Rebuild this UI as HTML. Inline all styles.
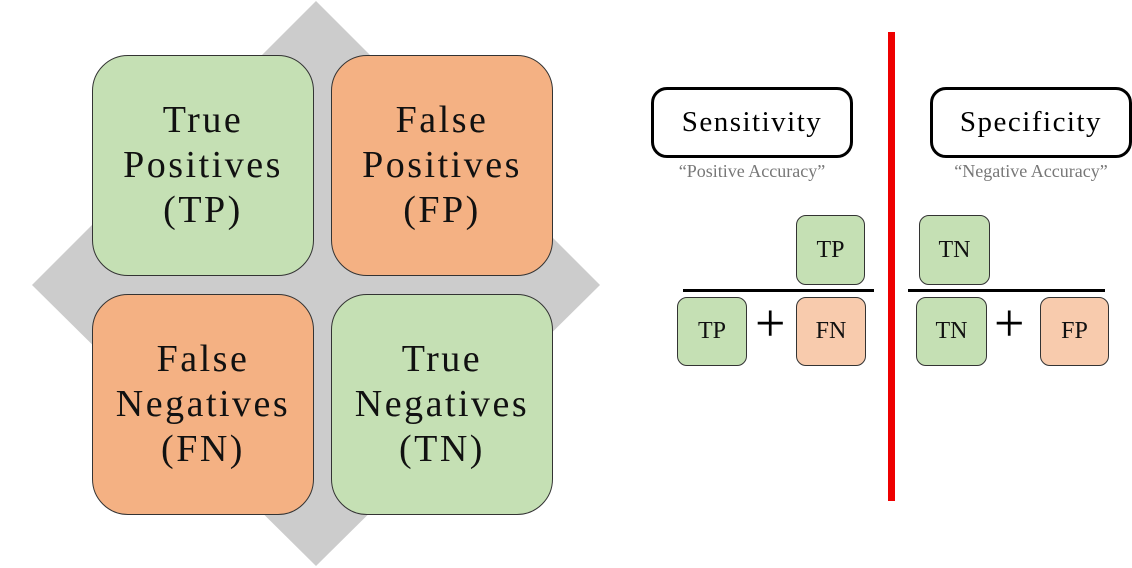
<!DOCTYPE html>
<html><head><style>
body{margin:0;width:1132px;height:568px;background:#fff;position:relative;overflow:hidden;font-family:"Liberation Serif",serif}
.a{position:absolute;box-sizing:border-box}
.big{border:1px solid #333;border-radius:36px;display:flex;align-items:center;justify-content:center;text-align:center;font-size:38px;line-height:45px;color:#111;letter-spacing:2.5px}
.g{background:#c5e0b4}.o{background:#f4b183}.lo{background:#f8cbad}
.sm{border:1px solid #333;border-radius:10px;display:flex;align-items:center;justify-content:center;font-size:24px;color:#111}
.hd{border:3px solid #000;border-radius:16px;display:flex;align-items:center;justify-content:center;font-size:29px;letter-spacing:1.5px}
.sub{font-size:18px;color:#777;text-align:center}
.plus{font-size:54px;line-height:54px}
</style></head><body>
<svg class="a" style="left:0;top:0" width="620" height="568"><polygon points="316,1 600,285 316,566 32,285" fill="#cccccc"/></svg>
<div class="a big g" style="left:92px;top:55px;width:222px;height:221px">True<br>Positives<br>(TP)</div>
<div class="a big o" style="left:331px;top:55px;width:222px;height:221px">False<br>Positives<br>(FP)</div>
<div class="a big o" style="left:92px;top:294px;width:222px;height:221px">False<br>Negatives<br>(FN)</div>
<div class="a big g" style="left:331px;top:294px;width:222px;height:221px">True<br>Negatives<br>(TN)</div>
<div class="a" style="left:888px;top:32px;width:7px;height:469px;background:#e00"></div>
<div class="a hd" style="left:651px;top:87px;width:202px;height:71px">Sensitivity</div>
<div class="a hd" style="left:930px;top:87px;width:202px;height:71px">Specificity</div>
<div class="a sub" style="left:641px;top:161px;width:222px">“Positive Accuracy”</div>
<div class="a sub" style="left:920px;top:161px;width:222px">“Negative Accuracy”</div>
<div class="a sm g" style="left:796px;top:215px;width:69px;height:70px">TP</div>
<div class="a" style="left:683px;top:289px;width:191px;height:3px;background:#000"></div>
<div class="a sm g" style="left:677px;top:297px;width:70px;height:69px">TP</div>
<div class="a plus" style="left:755px;top:296px">+</div>
<div class="a sm lo" style="left:796px;top:297px;width:70px;height:69px">FN</div>
<div class="a sm g" style="left:919px;top:215px;width:71px;height:70px">TN</div>
<div class="a" style="left:908px;top:289px;width:197px;height:3px;background:#000"></div>
<div class="a sm g" style="left:916px;top:297px;width:71px;height:69px">TN</div>
<div class="a plus" style="left:994px;top:296px">+</div>
<div class="a sm lo" style="left:1040px;top:297px;width:69px;height:69px">FP</div>
</body></html>
